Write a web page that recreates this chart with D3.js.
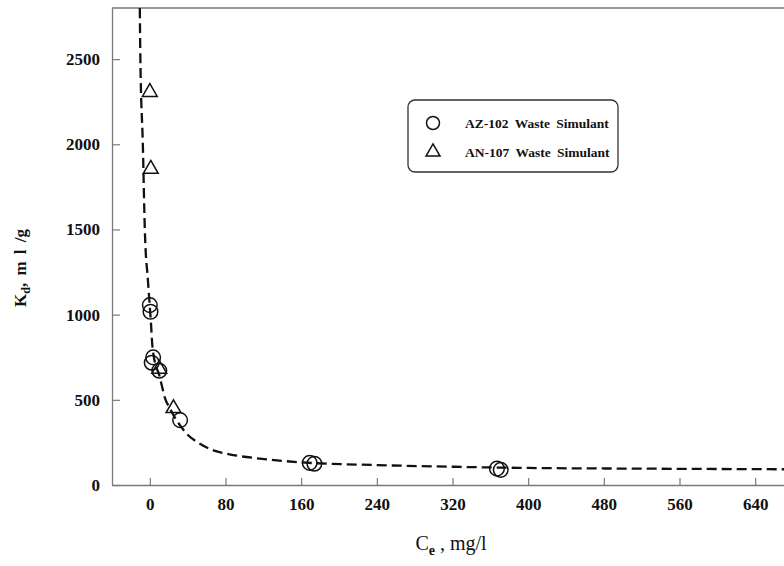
<!DOCTYPE html>
<html>
<head>
<meta charset="utf-8">
<script src="https://cdn.jsdelivr.net/npm/d3@7"></script>
<style>
  html, body { margin: 0; padding: 0; background: #fff; }
  svg { display: block; }
  text { font-family: "Liberation Serif", "Times New Roman", serif; fill: #111; }
</style>
</head>
<body>
<svg id="chart" width="784" height="566"></svg>
<script>
// Measured distribution coefficients Kd (ml/g) versus equilibrium concentration Ce (mg/l)
const az102Ce = [0, 0.7, 3.5, 2, 10, 32, 169, 174, 367, 371];
const az102Kd = [1056, 1017, 749, 718, 671, 381, 130, 125, 96, 89];

const an107Ce = [0, 1, 10, 25];
const an107Kd = [2306, 1855, 681, 450];

// Fitted isotherm trace (dashed)
const fitCe = [-10.6, -10, -7.4, -5.3, -2, 0, 1.2, 2.5, 4, 7, 10, 12.4, 16, 21, 26, 32, 40, 50, 69, 88, 116, 160, 240, 320, 400, 480, 560, 640, 690];
const fitKd = [2800, 2500, 2000, 1500, 1200, 1045, 950, 830, 760, 690, 645, 590, 510, 452, 400, 350, 295, 252, 200, 176, 155, 133, 117, 107, 100, 97, 95, 93, 92];

const xTicks = [0, 80, 160, 240, 320, 400, 480, 560, 640];
const yTicks = [0, 500, 1000, 1500, 2000, 2500];

const seriesNames = ["AZ-102 Waste Simulant", "AN-107 Waste Simulant"];

const svg = d3.select("#chart");
const plotL = 112, plotT = 8, plotB = 485, plotR = 793;

const x = d3.scaleLinear().domain([-40, 680]).range([plotL, plotR]);
const y = d3.scaleLinear().domain([0, 2800]).range([plotB, plotT]);

const axisColor = "#7a7a7a";

svg.append("defs").append("clipPath").attr("id", "plotClip")
  .append("rect").attr("x", plotL).attr("y", plotT).attr("width", plotR - plotL).attr("height", plotB - plotT);

// Frame: top edge
svg.append("line").attr("x1", plotL).attr("x2", plotR).attr("y1", plotT).attr("y2", plotT)
  .attr("stroke", axisColor).attr("stroke-width", 1.3);

// X axis with inward ticks
const xAxis = d3.axisBottom(x).tickValues(xTicks).tickSizeInner(-7).tickSizeOuter(0).tickPadding(13)
  .tickFormat(d3.format("d"));
const gx = svg.append("g").attr("transform", `translate(0,${plotB})`).call(xAxis);
gx.select(".domain").attr("stroke", axisColor).attr("stroke-width", 1.3);
gx.selectAll(".tick line").attr("stroke", axisColor).attr("stroke-width", 1.2);
gx.selectAll(".tick text").attr("font-family", "Liberation Serif, serif").attr("font-weight", "bold")
  .attr("font-size", 17).attr("fill", "#111");

// Y axis with inward ticks
const yAxis = d3.axisLeft(y).tickValues(yTicks).tickSizeInner(-8).tickSizeOuter(0).tickPadding(12)
  .tickFormat(d3.format("d"));
const gy = svg.append("g").attr("transform", `translate(${plotL},0)`).call(yAxis);
gy.select(".domain").attr("stroke", axisColor).attr("stroke-width", 1.3);
gy.selectAll(".tick line").attr("stroke", axisColor).attr("stroke-width", 1.2);
gy.selectAll(".tick text").attr("font-family", "Liberation Serif, serif").attr("font-weight", "bold")
  .attr("font-size", 17).attr("fill", "#111");

// Axis titles
const xt = svg.append("text").attr("x", 451).attr("y", 550).attr("text-anchor", "middle")
  .attr("font-size", 20);
xt.append("tspan").text("C");
xt.append("tspan").attr("dy", 5).attr("font-size", 14).attr("font-weight", "bold").text("e");
xt.append("tspan").attr("dy", -5).text(" , mg/l");

const yt = svg.append("text").attr("transform", "translate(26,268) rotate(-90)")
  .attr("text-anchor", "middle").attr("font-size", 17).attr("font-weight", "bold");
yt.append("tspan").text("K");
yt.append("tspan").attr("dy", 4).attr("font-size", 12).text("d");
yt.append("tspan").attr("dy", -4).attr("word-spacing", 3).text(",  m l /g");

// Fitted dashed curve
const fitPts = fitCe.map((c, i) => [c, fitKd[i]]);
svg.append("path").attr("clip-path", "url(#plotClip)")
  .datum(fitPts)
  .attr("d", d3.line().x(d => x(d[0])).y(d => y(d[1])).curve(d3.curveMonotoneX))
  .attr("fill", "none").attr("stroke", "#111").attr("stroke-width", 2.3)
  .attr("stroke-dasharray", "10,5");

// Markers
const triPath = d3.symbol().type(d3.symbolTriangle).size(95);
const plot = svg.append("g").attr("clip-path", "url(#plotClip)");

plot.selectAll("circle.az").data(az102Ce.map((c, i) => [c, az102Kd[i]])).join("circle")
  .attr("class", "az").attr("cx", d => x(d[0])).attr("cy", d => y(d[1])).attr("r", 7.3)
  .attr("fill", "none").attr("stroke", "#111").attr("stroke-width", 1.5);

plot.selectAll("path.an").data(an107Ce.map((c, i) => [c, an107Kd[i]])).join("path")
  .attr("class", "an").attr("d", triPath)
  .attr("transform", d => `translate(${x(d[0])},${y(d[1])})`)
  .attr("fill", "none").attr("stroke", "#111").attr("stroke-width", 1.5);

// Legend
const lg = svg.append("g");
lg.append("rect").attr("x", 408).attr("y", 100).attr("width", 210).attr("height", 72)
  .attr("rx", 7).attr("fill", "#fff").attr("stroke", "#333").attr("stroke-width", 1.3);
lg.append("circle").attr("cx", 433).attr("cy", 123).attr("r", 6.5)
  .attr("fill", "none").attr("stroke", "#111").attr("stroke-width", 1.5);
lg.append("path").attr("d", d3.symbol().type(d3.symbolTriangle).size(85))
  .attr("transform", "translate(433,152)")
  .attr("fill", "none").attr("stroke", "#111").attr("stroke-width", 1.5);
lg.selectAll("text.lab").data(seriesNames).join("text").attr("class", "lab")
  .attr("x", 465).attr("y", (d, i) => 128 + i * 29)
  .attr("font-size", 13.5).attr("font-weight", "bold").attr("word-spacing", 3)
  .text(d => d);
</script>
</body>
</html>
